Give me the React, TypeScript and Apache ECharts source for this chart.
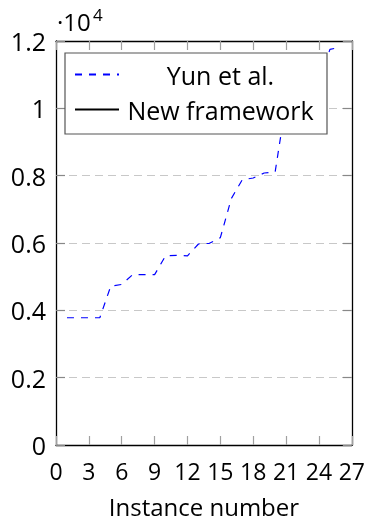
import React, { useEffect, useRef } from "react";
import * as echarts from "echarts";

// Instance numbers on the x axis
const instances = [1, 2, 3, 4, 5, 6, 7, 8, 9, 10, 11, 12, 13, 14, 15, 16, 17, 18, 19, 20, 21, 22, 23, 24, 25, 26];
// Objective values for the method of Yun et al.
const yunValues = [
  3780, 3780, 3780, 3780, 4720, 4770, 5060, 5060, 5060, 5620, 5630, 5620, 5970, 5990, 6160,
  7320, 7880, 7930, 8080, 8110, 10200, 10450, 10650, 10850, 11750, 11820,
];
// Objective values for the new framework (no points in this range)
const newFrameworkValues: number[] = [];

const FONT = "Open Sans";

export default function App() {
  const ref = useRef<HTMLDivElement>(null);

  useEffect(() => {
    if (!ref.current) return;
    const chart = echarts.init(ref.current, undefined, { renderer: "svg" });

    const frame = { show: true, onZero: false, lineStyle: { color: "#000", width: 1.3 } };
    const xTick = { show: true, inside: true, length: 9, lineStyle: { color: "#a0a0a0", width: 1.2 } };
    const yTick = { show: true, inside: true, length: 9, lineStyle: { color: "#888", width: 1.2 } };

    chart.setOption({
      animation: false,
      grid: { left: 56, right: 16, top: 41, bottom: 74, containLabel: false },
      xAxis: [
        {
          type: "value",
          min: 0,
          max: 27,
          interval: 3,
          position: "bottom",
          axisLine: frame,
          axisTick: xTick,
          splitLine: { show: false },
          axisLabel: { fontSize: 23, color: "#000", fontFamily: FONT, margin: 14, showMinLabel: true, showMaxLabel: true },
          name: "Instance number",
          nameLocation: "middle",
          nameGap: 49,
          nameTextStyle: { fontSize: 24, color: "#000", fontFamily: FONT },
        },
        {
          type: "value",
          min: 0,
          max: 27,
          interval: 3,
          position: "top",
          axisLine: frame,
          axisTick: xTick,
          splitLine: { show: false },
          axisLabel: { show: false },
        },
      ],
      yAxis: [
        {
          type: "value",
          min: 0,
          max: 12000,
          interval: 2000,
          position: "left",
          axisLine: frame,
          axisTick: yTick,
          splitLine: { show: true, lineStyle: { color: "#c8c8c8", width: 1.2, type: [8, 5] } },
          axisLabel: {
            fontSize: 25,
            color: "#000",
            fontFamily: FONT,
            margin: 10,
            formatter: (v: number) => String(Math.round(v / 1000) / 10),
          },
        },
        {
          type: "value",
          min: 0,
          max: 12000,
          interval: 2000,
          position: "right",
          axisLine: frame,
          axisTick: yTick,
          splitLine: { show: false },
          axisLabel: { show: false },
        },
      ],
      legend: {
        orient: "vertical",
        left: 65,
        top: 53,
        itemWidth: 44,
        itemHeight: 26,
        itemGap: 10,
        padding: [9, 10, 12, 9],
        borderColor: "#555",
        borderWidth: 1.2,
        backgroundColor: "#fff",
        selectedMode: false,
        itemStyle: { opacity: 0 },
        data: ["Yun et al.", "New framework"],
        formatter: (name: string) => `{t|${name}}`,
        textStyle: {
          rich: {
            t: { width: 193, align: "center", fontSize: 25, lineHeight: 26, color: "#000", fontFamily: FONT },
          },
        },
      },
      graphic: [
        {
          type: "text",
          left: 57,
          top: 9,
          style: { text: "·10", fontSize: 24, fill: "#000", fontFamily: FONT },
        },
        {
          type: "text",
          left: 93,
          top: 6,
          style: { text: "4", fontSize: 17, fill: "#000", fontFamily: FONT },
        },
      ],
      series: [
        {
          name: "Yun et al.",
          type: "line",
          xAxisIndex: 0,
          yAxisIndex: 0,
          data: instances.map((x, i) => [x, yunValues[i]]),
          symbol: "none",
          lineStyle: { color: "#0000ff", width: 1.2, type: [7, 7] },
          itemStyle: { color: "#0000ff" },
        },
        {
          name: "New framework",
          type: "line",
          xAxisIndex: 0,
          yAxisIndex: 0,
          data: newFrameworkValues.map((v, i) => [instances[i], v]),
          symbol: "none",
          lineStyle: { color: "#000", width: 1.2 },
          itemStyle: { color: "#000" },
        },
      ],
    });

    return () => chart.dispose();
  }, []);

  return <div ref={ref} style={{ position: "fixed", left: 0, top: 0, width: 368, height: 523 }} />;
}
